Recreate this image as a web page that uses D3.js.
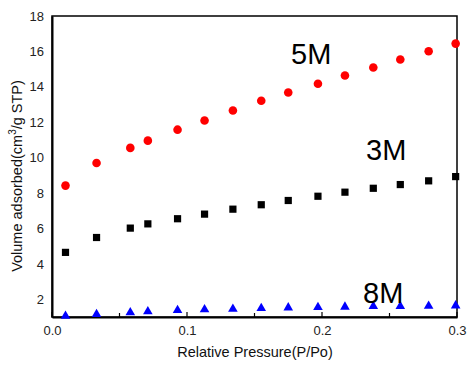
<!DOCTYPE html>
<html><head><meta charset="utf-8">
<script src="https://cdn.jsdelivr.net/npm/d3@7"></script>
<style>body{margin:0;background:#fff}svg{display:block}text{font-family:"Liberation Sans",Arial,sans-serif}</style>
</head><body><svg id="c" width="475" height="365"></svg>
<script>
const pressure = [0.010,0.033,0.058,0.071,0.093,0.113,0.134,0.155,0.175,0.197,0.217,0.238,0.258,0.279,0.299];
const v5M = [8.42,9.70,10.55,10.96,11.58,12.10,12.66,13.21,13.68,14.17,14.64,15.09,15.54,16.01,16.44];
const v3M = [4.65,5.49,6.02,6.26,6.55,6.81,7.09,7.34,7.58,7.82,8.05,8.27,8.48,8.69,8.93];
const v8M = [1.06,1.15,1.25,1.31,1.38,1.42,1.45,1.49,1.53,1.55,1.57,1.61,1.61,1.62,1.64];
const xTicks = [0.0,0.1,0.2,0.3];
const yTicks = [2,4,6,8,10,12,14,16,18];
const seriesLabels = ["5M","3M","8M"];

const svg = d3.select("#c");
const L=52, R=457, T=16, B=317;
const x = d3.scaleLinear().domain([0,0.3]).range([L,R]);
const y = d3.scaleLinear().domain([1,18]).range([B,T]);

// frame
svg.append("rect").attr("x",L).attr("y",T).attr("width",R-L).attr("height",B-T)
  .attr("fill","none").attr("stroke","#000").attr("stroke-width",1.5);

// x axis
const xAxis = d3.axisBottom(x).tickValues(xTicks).tickFormat(d3.format(".1f")).tickSize(0).tickPadding(9);
const gx = svg.append("g").attr("transform",`translate(0,${B})`).call(xAxis);
gx.select(".domain").attr("stroke","#000").attr("stroke-width",2);
gx.selectAll("text").attr("font-size",13).attr("fill","#222").style("font-family","Liberation Sans, Arial");
// inward ticks
const minor = d3.range(0,0.301,0.05);
svg.append("g").selectAll("line").data(minor).join("line")
  .attr("x1",d=>x(d)).attr("x2",d=>x(d)).attr("y1",B).attr("y2",(d,i)=>i%2===0?B-5:B-4)
  .attr("stroke","#000").attr("stroke-width",1.2);

// y axis
const yAxis = d3.axisLeft(y).tickValues(yTicks).tickSize(0).tickPadding(8);
const gy = svg.append("g").attr("transform",`translate(${L},0)`).call(yAxis);
gy.select(".domain").attr("stroke","#000").attr("stroke-width",2);
gy.selectAll("text").attr("font-size",13).attr("fill","#222").style("font-family","Liberation Sans, Arial");

// titles
svg.append("text").attr("x",255).attr("y",357).attr("text-anchor","middle")
  .attr("font-size",14.5).attr("fill","#111").text("Relative Pressure(P/Po)");
const yt = svg.append("text").attr("transform","translate(22,176) rotate(-90)").attr("text-anchor","middle")
  .attr("font-size",14.5).attr("fill","#111");
yt.append("tspan").text("Volume adsorbed(cm");
yt.append("tspan").attr("dy",-6).attr("font-size",10).text("3");
yt.append("tspan").attr("dy",6).text("/g STP)");

// markers
const pts = (arr)=>arr.map((v,i)=>({p:pressure[i],v}));
svg.append("g").selectAll("circle").data(pts(v5M)).join("circle")
  .attr("cx",d=>x(d.p)).attr("cy",d=>y(d.v)).attr("r",4.3).attr("fill","#f00");
svg.append("g").selectAll("rect").data(pts(v3M)).join("rect")
  .attr("x",d=>x(d.p)-3.6).attr("y",d=>y(d.v)-3.6).attr("width",7.2).attr("height",7.2).attr("fill","#000");
const tri = d3.symbol().type(d3.symbolTriangle).size(40);
svg.append("g").selectAll("path").data(pts(v8M)).join("path")
  .attr("transform",d=>`translate(${x(d.p)},${y(d.v)})`).attr("d",tri).attr("fill","#00f");

// series labels
const lab = [{t:seriesLabels[0],x:291,y:64},{t:seriesLabels[1],x:366,y:160},{t:seriesLabels[2],x:363,y:303}];
svg.append("g").selectAll("text").data(lab).join("text")
  .attr("x",d=>d.x).attr("y",d=>d.y).attr("font-size",29).attr("fill","#000").text(d=>d.t);
</script></body></html>
